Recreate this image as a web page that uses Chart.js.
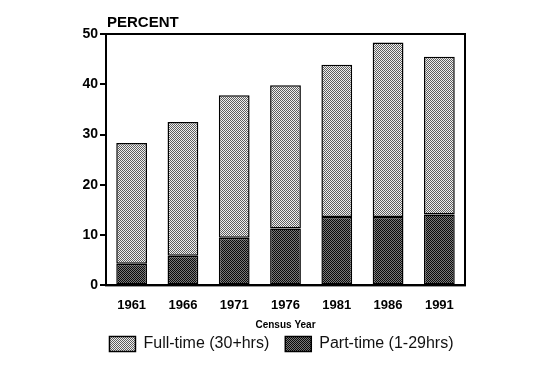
<!DOCTYPE html>
<html>
<head>
<meta charset="utf-8">
<script src="https://cdn.jsdelivr.net/npm/chart.js@4.4.1/dist/chart.umd.min.js"></script>
<style>
  html, body { margin: 0; padding: 0; background: #fff; }
  #wrap { width: 548px; height: 386px; }
</style>
</head>
<body>
<div id="wrap"><canvas id="chart" width="548" height="386"></canvas></div>
<script>
// census years and percent shares
const years = ['1961', '1966', '1971', '1976', '1981', '1986', '1991'];
const partTime = [4.3, 5.9, 9.5, 11.3, 13.6, 13.6, 14.1];
const fullTime = [24.0, 26.6, 28.3, 28.5, 30.3, 34.7, 31.4];
const yTicks = [0, 10, 20, 30, 40, 50];

// little dither tiles to look like the scanned halftone
function makePattern(a, b) {
  const c = document.createElement('canvas');
  c.width = 2; c.height = 2;
  const g = c.getContext('2d');
  g.fillStyle = b; g.fillRect(0, 0, 2, 2);
  g.fillStyle = a;
  g.fillRect(0, 0, 1, 1);
  g.fillRect(1, 1, 1, 1);
  return g.createPattern(c, 'repeat');
}
const lightFill = makePattern('#5e5e5e', '#f0f0f0');
const darkFill = makePattern('#0a0a0a', '#7a7a7a');

const font = 'Arial, "Liberation Sans", sans-serif';

// draws the box round the plot and the PERCENT label
const frame = {
  id: 'frame',
  afterDraw(chart) {
    const { ctx, chartArea: a } = chart;
    ctx.save();
    ctx.strokeStyle = '#000';
    ctx.lineWidth = 2;
    ctx.strokeRect(a.left, a.top, a.right - a.left, a.bottom - a.top);
    ctx.fillStyle = '#000';
    ctx.font = 'bold 15px ' + font;
    ctx.textBaseline = 'bottom';
    ctx.fillText('PERCENT', a.left + 1, a.top - 4);
    ctx.restore();
  }
};

const ctx = document.getElementById('chart').getContext('2d');
new Chart(ctx, {
  type: 'bar',
  data: {
    labels: years,
    datasets: [
      {
        label: 'Part-time (1-29hrs)',
        data: partTime,
        backgroundColor: darkFill,
        borderColor: '#000',
        borderWidth: 1.5,
        borderSkipped: false
      },
      {
        label: 'Full-time (30+hrs)',
        data: fullTime,
        backgroundColor: lightFill,
        borderColor: '#000',
        borderWidth: 1.5,
        borderSkipped: false
      }
    ]
  },
  options: {
    responsive: false,
    animation: false,
    layout: { padding: { left: 66, right: 51, top: 34, bottom: 24 } },
    datasets: { bar: { barPercentage: 0.6, categoryPercentage: 1 } },
    plugins: {
      legend: {
        position: 'bottom',
        reverse: true,
        labels: {
          boxWidth: 26,
          boxHeight: 15,
          padding: 16,
          color: '#111',
          font: { family: font, size: 16 }
        }
      },
      tooltip: { enabled: false }
    },
    scales: {
      x: {
        stacked: true,
        grid: { display: false },
        border: { color: '#000', width: 2 },
        ticks: { color: '#000', font: { family: font, size: 13, weight: 'bold' }, padding: 4 },
        title: { display: true, text: 'Census Year', color: '#000', font: { family: font, size: 10, weight: 'bold' }, padding: { top: 2, bottom: -11 } }
      },
      y: {
        stacked: true,
        min: 0,
        max: 50,
        afterBuildTicks: s => { s.ticks = yTicks.map(v => ({ value: v })); },
        afterFit: s => { s.width = 40; },
        grid: { drawOnChartArea: false, drawTicks: true, tickLength: 6, color: '#000', lineWidth: 2 },
        border: { color: '#000', width: 2 },
        ticks: { color: '#000', font: { family: font, size: 14, weight: 'bold' }, padding: 2 }
      },
      // empty right-hand axis, only keeps the legend centred like the scan
      yRight: {
        position: 'right',
        min: 0,
        max: 50,
        afterFit: s => { s.width = 32; },
        grid: { display: false },
        border: { display: false },
        ticks: { display: false }
      }
    }
  },
  plugins: [frame]
});
</script>
</body>
</html>
